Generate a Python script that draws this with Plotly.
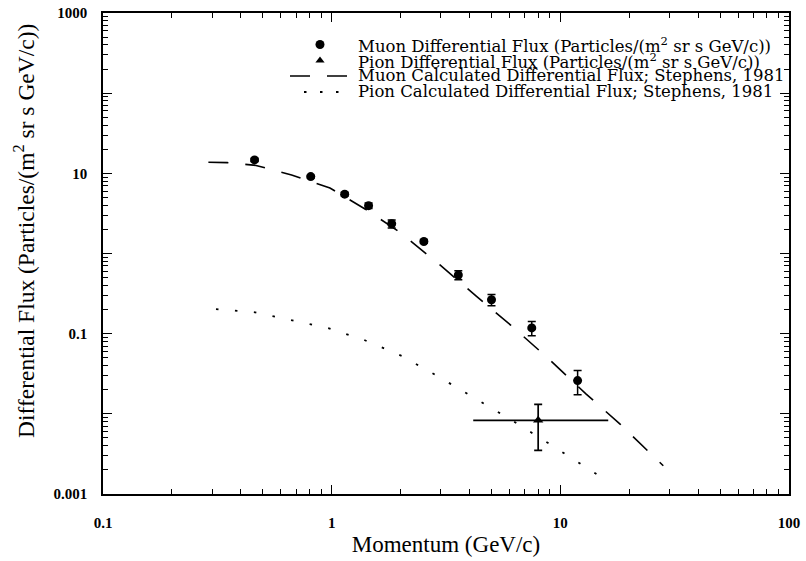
import plotly.graph_objects as go

# ---------------- data ----------------
muon_p = [0.46, 0.81, 1.14, 1.45, 1.83, 2.53, 3.58, 5.0, 7.5, 11.9]
muon_flux = [14.7, 9.1, 5.5, 3.95, 2.35, 1.41, 0.54, 0.265, 0.118, 0.026]
muon_err = [0.7, 0.35, 0.3, 0.3, 0.27, 0.07, 0.07, 0.042, 0.024, 0.0087]

pion_p = [8.0]
pion_flux = [0.0083]
pion_err_y = [0.0048]
pion_err_x_minus = [3.84]
pion_err_x_plus = [8.2]

muon_calc_p = [0.289, 0.35, 0.467, 0.668, 0.983, 1.405, 1.968, 2.976, 4.276, 6.08, 8.83, 12.94, 18.2, 28.2]
muon_calc_flux = [13.75, 13.6, 12.55, 9.55, 6.57, 3.57, 1.875, 0.721, 0.296, 0.127, 0.0494, 0.01775, 0.0075, 0.00225]

pion_calc_p = [0.312, 0.457, 0.657, 0.966, 1.384, 2.023, 2.924, 4.276, 6.02, 8.77, 12.52, 15.16]
pion_calc_flux = [0.202, 0.1854, 0.1486, 0.117, 0.0837, 0.0529, 0.0292, 0.01538, 0.00859, 0.00439, 0.00225, 0.00161]

legend_labels = [
    "Muon Differential Flux (Particles/(m<sup>2</sup> sr s GeV/c))",
    "Pion Differential Flux (Particles/(m<sup>2</sup> sr s GeV/c))",
    "Muon Calculated Differential Flux; Stephens, 1981",
    "Pion Calculated Differential Flux; Stephens, 1981",
]
x_title = "Momentum (GeV/c)"
y_title = "Differential Flux (Particles/(m<sup>2</sup> sr s GeV/c))"

x_major = [0.1, 1, 10, 100]
x_major_text = ["0.1", "1", "10", "100"]
y_major = [0.001, 0.01, 0.1, 1, 10, 100, 1000]
y_major_text = ["0.001", "", "0.1", "", "10", "", "1000"]

def minor_vals(lo_exp, hi_exp):
    out = []
    for e in range(lo_exp, hi_exp):
        for m in range(2, 10):
            out.append(m * 10 ** e)
    return out

x_minor = minor_vals(-1, 2)
y_minor = minor_vals(-3, 3)

SERIF = "Liberation Serif, Times New Roman, serif"
LEG_FONT = "DejaVu Serif, serif"

fig = go.Figure()

# calculated curves
fig.add_trace(go.Scatter(
    x=muon_calc_p, y=muon_calc_flux, mode="lines",
    line=dict(color="black", width=1.6, dash="20px,17px"),
    showlegend=False, hoverinfo="skip"))
fig.add_trace(go.Scatter(
    x=pion_calc_p, y=pion_calc_flux, mode="lines",
    line=dict(color="black", width=1.8, dash="2.5px,16.5px"),
    showlegend=False, hoverinfo="skip"))

# muon data
fig.add_trace(go.Scatter(
    x=muon_p, y=muon_flux, mode="markers",
    marker=dict(symbol="circle", size=9, color="black"),
    error_y=dict(type="data", array=muon_err, visible=True, color="black", thickness=1.5, width=4),
    showlegend=False))

# pion data
fig.add_trace(go.Scatter(
    x=pion_p, y=pion_flux, mode="markers",
    marker=dict(symbol="triangle-up", size=9, color="black"),
    error_y=dict(type="data", array=pion_err_y, visible=True, color="black", thickness=1.7, width=4),
    error_x=dict(type="data", array=pion_err_x_plus, arrayminus=pion_err_x_minus, visible=True,
                 color="black", thickness=1.7, width=0),
    showlegend=False))

# ---------------- custom legend (overlay axes in [0,1] over the plot area) ----------------
# screen pixel -> fraction of plot area (plot area spans x 103..789, y 13..494)
def px_to_paper(px, py):
    return (px - 103) / 686.0, (494 - py) / 481.0

rows_py = [44.5, 60.5, 76, 92]
glyph_px = 320
text_px = 356

gx, gy = px_to_paper(glyph_px, rows_py[0])
fig.add_trace(go.Scatter(x=[gx], y=[gy], xaxis="x2", yaxis="y2", mode="markers",
                         marker=dict(symbol="circle", size=9, color="black"),
                         showlegend=False, hoverinfo="skip"))
gx, gy = px_to_paper(glyph_px, rows_py[1])
fig.add_trace(go.Scatter(x=[gx], y=[gy], xaxis="x2", yaxis="y2", mode="markers",
                         marker=dict(symbol="triangle-up", size=8, color="black"),
                         showlegend=False, hoverinfo="skip"))
x0, y0 = px_to_paper(290, rows_py[2])
x1, _ = px_to_paper(348, rows_py[2])
fig.add_trace(go.Scatter(x=[x0, x1], y=[y0, y0], xaxis="x2", yaxis="y2", mode="lines",
                         line=dict(color="black", width=1.6, dash="20px,17px"),
                         showlegend=False, hoverinfo="skip"))
x0, y0 = px_to_paper(304, rows_py[3])
x1, _ = px_to_paper(340, rows_py[3])
fig.add_trace(go.Scatter(x=[x0, x1], y=[y0, y0], xaxis="x2", yaxis="y2", mode="lines",
                         line=dict(color="black", width=1.8, dash="2.5px,13.5px"),
                         showlegend=False, hoverinfo="skip"))

annotations = []
for lbl, py in zip(legend_labels, rows_py):
    tx, ty = px_to_paper(text_px, py)
    annotations.append(dict(x=tx, y=ty, xref="paper", yref="paper", text=lbl,
                            showarrow=False, xanchor="left", yanchor="middle",
                            font=dict(family=LEG_FONT, size=16.5, color="black")))

# y-axis title placed as a rotated annotation (sits above centre in the reference)
tx, ty = px_to_paper(24, 231)
annotations.append(dict(x=tx, y=ty, xref="paper", yref="paper", text=y_title,
                        textangle=-90, showarrow=False, xanchor="center", yanchor="middle",
                        font=dict(family=SERIF, size=23.5, color="black")))

axis_common = dict(
    type="log", showline=True, linecolor="black", linewidth=1.5, mirror="allticks",
    ticks="inside", ticklen=9, tickwidth=1.2, tickcolor="black",
    showgrid=False, zeroline=False, automargin=False, ticklabeloverflow="allow",
    tickfont=dict(family=SERIF, size=15, color="black", weight="bold"),
)

fig.update_layout(
    width=806, height=561,
    margin=dict(l=103, r=17, t=13, b=67, autoexpand=False),
    paper_bgcolor="white", plot_bgcolor="white",
    xaxis=dict(
        **axis_common,
        range=[-1, 2],
        tickmode="array", tickvals=x_major, ticktext=x_major_text,
        ticklabelstandoff=14,
        minor=dict(tickmode="array", tickvals=x_minor, ticks="inside", ticklen=5,
                   tickwidth=1, tickcolor="black"),
        title=dict(text=x_title, font=dict(family=SERIF, size=23, color="black"),
                   standoff=6),
    ),
    yaxis=dict(
        **axis_common,
        range=[-3, 3],
        tickmode="array", tickvals=y_major, ticktext=y_major_text,
        ticklabelstandoff=11,
        minor=dict(tickmode="array", tickvals=y_minor, ticks="inside", ticklen=5,
                   tickwidth=1, tickcolor="black"),
    ),
    xaxis2=dict(overlaying="x", range=[0, 1], visible=False, anchor="y2"),
    yaxis2=dict(overlaying="y", range=[0, 1], visible=False, anchor="x2"),
    annotations=annotations,
    showlegend=False,
)

# remove the default 8px page margin so the figure sits at the window's corner
fig.write_html("out.html",
               config={"displayModeBar": False},
               post_script="document.body.style.margin='0';document.body.style.overflow='hidden';")
